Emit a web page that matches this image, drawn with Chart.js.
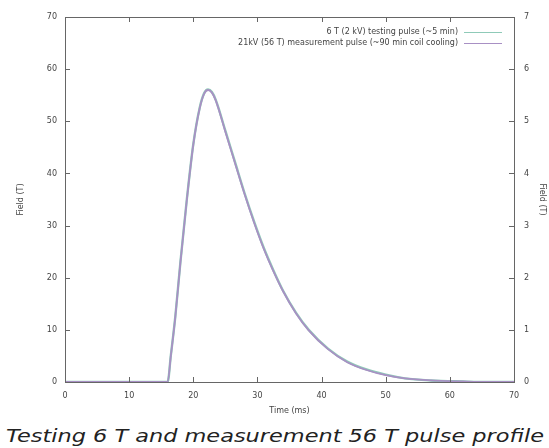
<!DOCTYPE html>
<html><head><meta charset="utf-8">
<script src="https://cdn.jsdelivr.net/npm/chart.js@4"></script>
<style>
html,body{margin:0;padding:0;background:#fff;overflow:hidden;}
#wrap{width:549px;height:420px;position:relative;}
#cap{width:549px;height:28px;position:relative;}
#cap span{position:absolute;left:274.5px;top:5px;font-family:"DejaVu Sans";font-style:italic;font-size:18px;color:#222;white-space:nowrap;transform-origin:0 0;}
</style></head>
<body>
<div id="wrap"><canvas id="c" width="549" height="420"></canvas></div>
<div id="cap"><span id="capt">Testing 6 T and measurement 56 T pulse profile</span></div>
<script>
const timeMs = [0, 16, 16.5, 17.2, 18, 19, 20, 21, 21.7, 22.3, 22.9, 23.5, 25, 26.5, 28, 29.5, 31, 32.5, 34, 36, 38, 41, 44, 47, 50, 53, 57, 62, 66, 70];
const field56 = [0, 0, 5, 12.5, 23, 35, 45.5, 52.5, 55.3, 56, 55.5, 54, 48, 42, 36, 30.5, 25.5, 21.2, 17.4, 13.2, 9.9, 6.3, 3.8, 2.3, 1.3, 0.7, 0.3, 0.1, 0, 0];
const field6 = [0, 0, 0.51, 1.26, 2.31, 3.51, 4.56, 5.26, 5.54, 5.61, 5.56, 5.41, 4.82, 4.22, 3.62, 3.07, 2.57, 2.14, 1.75, 1.33, 1.0, 0.64, 0.39, 0.24, 0.14, 0.07, 0.03, 0.01, 0, 0];
const xTicks = [0, 10, 20, 30, 40, 50, 60, 70];
const yTicks = [0, 10, 20, 30, 40, 50, 60, 70];
const y2Ticks = [0, 1, 2, 3, 4, 5, 6, 7];
const labels = ["6 T (2 kV) testing pulse (~5 min)", "21kV (56 T) measurement pulse (~90 min coil cooling)"];

const tickFont = {family: "DejaVu Sans", size: 8};
const frame = {
  id: 'frame',
  afterDatasetsDraw(chart) {
    const ctx = chart.ctx, a = chart.chartArea;
    const x = chart.scales.x, y = chart.scales.y, y2 = chart.scales.y2;
    ctx.save();
    ctx.strokeStyle = '#666'; ctx.lineWidth = 1;
    ctx.strokeRect(a.left + 0.5, a.top + 0.5, a.right - a.left, a.bottom - a.top);
    ctx.beginPath();
    xTicks.forEach(v => { const p = Math.round(x.getPixelForValue(v)) + 0.5;
      ctx.moveTo(p, a.bottom); ctx.lineTo(p, a.bottom - 5);
      ctx.moveTo(p, a.top); ctx.lineTo(p, a.top + 5); });
    yTicks.forEach(v => { const p = Math.round(y.getPixelForValue(v)) + 0.5;
      ctx.moveTo(a.left, p); ctx.lineTo(a.left + 5, p); });
    y2Ticks.forEach(v => { const p = Math.round(y2.getPixelForValue(v)) + 0.5;
      ctx.moveTo(a.right, p); ctx.lineTo(a.right - 5, p); });
    ctx.stroke();
    // legend
    ctx.font = '8px "DejaVu Sans"'; ctx.fillStyle = '#444';
    ctx.textAlign = 'right'; ctx.textBaseline = 'middle';
    chart.data.datasets.forEach((d, i) => {
      const ly = a.top + 15 + i * 11;
      ctx.fillText(d.label, a.right - 56, ly);
      ctx.strokeStyle = d.borderColor; ctx.lineWidth = 1;
      ctx.beginPath(); ctx.moveTo(a.right - 50, ly + 0.5); ctx.lineTo(a.right - 12, ly + 0.5); ctx.stroke();
    });
    ctx.restore();
  }
};

new Chart(document.getElementById('c'), {
  type: 'line',
  data: {
    datasets: [
      {label: labels[0], data: timeMs.map((t, i) => ({x: t, y: field6[i]})), yAxisID: 'y2', borderColor: '#8fcab8', borderWidth: 2.4, pointRadius: 0, cubicInterpolationMode: 'monotone', order: 2},
      {label: labels[1], data: timeMs.map((t, i) => ({x: t, y: field56[i]})), yAxisID: 'y', borderColor: '#a890c4', borderWidth: 1.8, pointRadius: 0, cubicInterpolationMode: 'monotone', order: 1}
    ]
  },
  options: {
    responsive: false, animation: false, devicePixelRatio: 1,
    layout: {padding: {top: 17, right: 0, left: 0, bottom: 0}},
    plugins: {legend: {display: false}, tooltip: {enabled: false}},
    scales: {
      x: {type: 'linear', min: 0, max: 70, afterBuildTicks: s => { s.ticks = xTicks.map(v => ({value: v})); },
        afterFit: s => { s.height = 38; },
        grid: {display: false, drawTicks: false}, border: {display: false},
        ticks: {font: tickFont, color: '#444', padding: 9},
        title: {display: true, text: 'Time (ms)', font: tickFont, color: '#444', padding: {top: 6}}},
      y: {position: 'left', min: 0, max: 70, afterBuildTicks: s => { s.ticks = yTicks.map(v => ({value: v})); },
        afterFit: s => { s.width = 65; },
        grid: {display: false, drawTicks: false}, border: {display: false},
        ticks: {font: tickFont, color: '#444', padding: 8},
        title: {display: true, text: 'Field (T)', font: tickFont, color: '#444', padding: {top: 16, bottom: 0}}},
      y2: {position: 'right', min: 0, max: 7, afterBuildTicks: s => { s.ticks = y2Ticks.map(v => ({value: v})); },
        afterFit: s => { s.width = 35; },
        grid: {display: false, drawTicks: false}, border: {display: false},
        ticks: {font: tickFont, color: '#444', padding: 10},
        title: {display: true, text: 'Field (T)', font: tickFont, color: '#444', padding: {top: 2}}}
    }
  },
  plugins: [frame]
});
const cap = document.getElementById('capt');
const w = cap.getBoundingClientRect().width;
const sx = 538 / w;
cap.style.transform = 'scaleX(' + sx + ') translateX(' + (-w / 2) + 'px)';
</script>
</body></html>
